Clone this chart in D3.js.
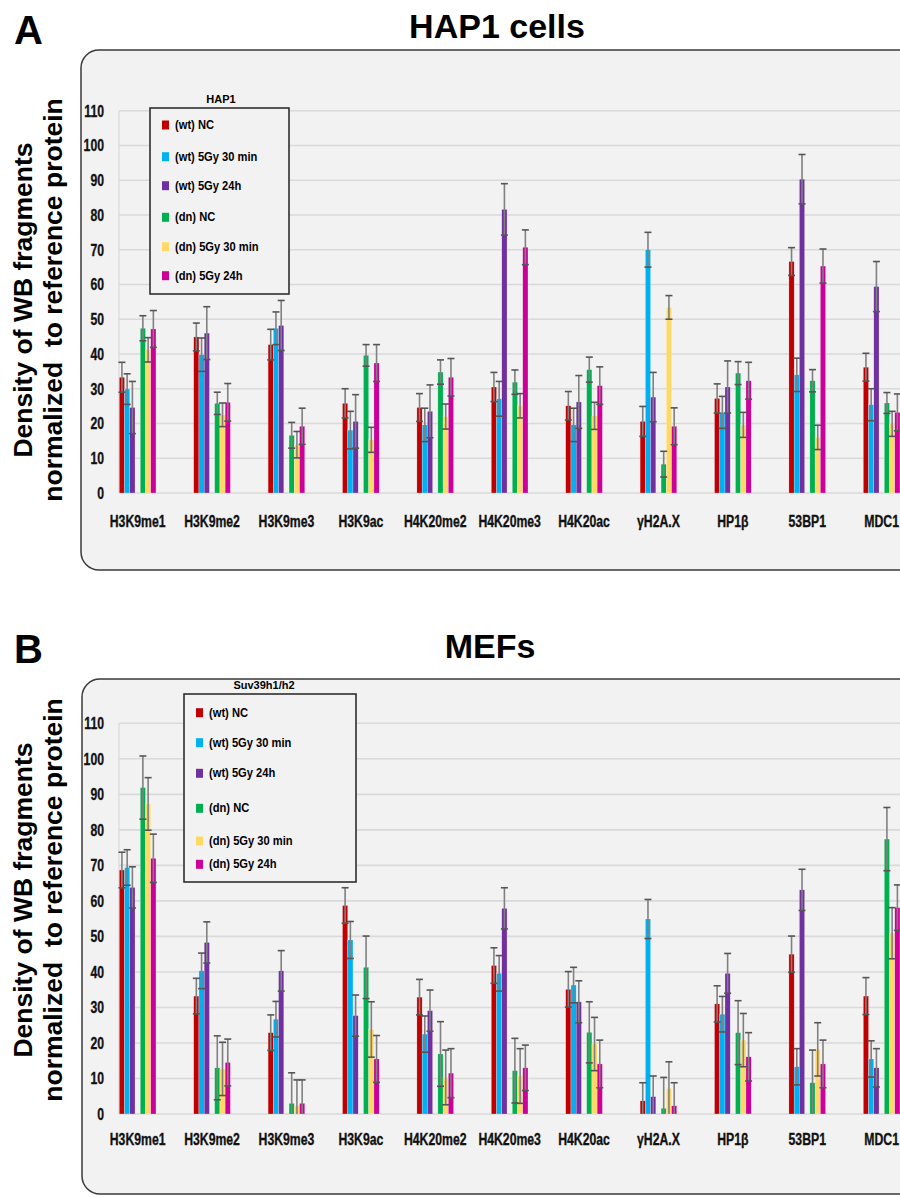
<!DOCTYPE html>
<html lang="en">
<head>
    <meta charset="UTF-8">
    <title>WB fragment density - HAP1 cells and MEFs</title>
    <style>
        body {
            margin: 0;
            background: #fff;
        }
        svg text {
            font-family: "Liberation Sans", Arial, sans-serif;
        }
        .tick-label, .cat-label {
            font-weight: bold;
            font-size: 17px;
            fill: #111;
            stroke: #111;
            stroke-width: 0.35px;
        }
        .axis-title {
            font-weight: bold;
            font-size: 26.5px;
            white-space: pre;
        }
        .legend-text {
            font-weight: bold;
            font-size: 12px;
        }
    </style>
</head>
<body>
<div id="chart"></div>
<script src="https://d3js.org/d3.v7.min.js"></script>
<script>
    // categories on the x axis (same for both panels)
    const categories = ["H3K9me1", "H3K9me2", "H3K9me3", "H3K9ac", "H4K20me2", "H4K20me3",
        "H4K20ac", "γH2A.X", "HP1β", "53BP1", "MDC1"];

    // series: three wt conditions, a gap, then three dn conditions
    const seriesNames = ["(wt) NC", "(wt) 5Gy 30 min", "(wt) 5Gy 24h", "(dn) NC", "(dn) 5Gy 30 min", "(dn) 5Gy 24h"];
    const seriesColors = ["#c00000", "#00b0f0", "#7030a0", "#00b050", "#ffd966", "#cc0099"];
    const yTicks = [0, 10, 20, 30, 40, 50, 60, 70, 80, 90, 100, 110];

    // Panel A: HAP1 cells, one row per series
    const hap1Means = [
        [33.3, 44.9, 42.7, 25.8, 24.6, 30.5, 25.1, 20.6, 27.2, 66.6, 36.2],
        [29.9, 39.8, 47.4, 18.1, 19.6, 27.1, 19.6, 70.0, 23.2, 34.0, 25.4],
        [24.6, 46.0, 48.2, 20.6, 23.5, 81.6, 26.2, 27.6, 30.5, 90.3, 59.4],
        [47.4, 25.8, 16.6, 39.6, 34.8, 31.9, 35.5, 8.3, 34.5, 32.3, 25.9],
        [41.2, 22.5, 13.9, 15.3, 22.0, 25.1, 22.2, 53.4, 19.6, 16.0, 19.9],
        [47.2, 26.1, 19.2, 37.4, 33.3, 70.7, 30.9, 19.2, 32.3, 65.3, 23.2]
    ];
    const hap1Errors = [
        [4.3, 4.0, 4.4, 4.2, 4.0, 4.2, 4.1, 4.3, 4.2, 4.0, 4.0],
        [4.4, 4.8, 4.7, 5.4, 4.8, 5.0, 4.8, 5.0, 4.6, 4.8, 4.6],
        [7.5, 7.6, 7.2, 7.7, 7.6, 7.4, 7.6, 7.1, 7.5, 7.1, 7.2],
        [3.6, 3.2, 3.7, 3.1, 3.5, 3.5, 3.6, 3.7, 3.3, 3.2, 3.0],
        [3.5, 3.4, 3.8, 3.6, 3.6, 3.5, 3.9, 3.4, 3.6, 3.5, 3.6],
        [5.3, 5.4, 5.2, 5.3, 5.4, 5.0, 5.4, 5.3, 5.3, 4.9, 5.3]
    ];

    // Panel B: MEFs (Suv39h1/h2)
    const mefMeans = [
        [68.7, 33.2, 22.9, 58.7, 32.9, 41.8, 35.1, 3.7, 31.0, 45.0, 33.2],
        [69.4, 40.3, 26.7, 49.0, 22.5, 39.6, 36.3, 54.9, 28.1, 13.3, 15.5],
        [63.8, 48.3, 40.3, 27.7, 29.1, 57.9, 31.6, 4.9, 39.6, 63.1, 13.0],
        [91.9, 13.0, 3.0, 41.3, 16.9, 12.2, 23.0, 1.6, 22.9, 8.8, 77.4],
        [87.3, 12.7, 2.3, 23.8, 10.3, 10.7, 19.7, 7.2, 20.8, 18.2, 50.9],
        [72.0, 14.5, 3.0, 15.5, 11.5, 13.0, 14.1, 2.3, 16.1, 14.1, 58.1]
    ];
    const mefErrors = [
        [5.0, 5.0, 5.0, 5.0, 5.0, 5.0, 5.0, 5.1, 5.1, 5.1, 5.2],
        [5.0, 5.0, 5.0, 5.2, 5.1, 5.0, 5.0, 5.5, 5.0, 5.1, 5.1],
        [5.8, 5.8, 5.7, 5.8, 5.8, 5.8, 5.9, 5.8, 5.6, 5.8, 5.4],
        [8.9, 9.0, 8.6, 8.8, 9.1, 9.1, 8.6, 8.7, 9.0, 9.2, 8.9],
        [7.4, 7.5, 7.3, 7.8, 7.7, 7.7, 7.5, 7.5, 7.5, 7.5, 7.2],
        [6.8, 6.6, 6.6, 6.6, 6.9, 6.4, 6.7, 6.5, 6.8, 6.7, 6.4]
    ];

    const width = 900, height = 1197;
    const svg = d3.select("#chart").append("svg")
        .attr("width", width)
        .attr("height", height);

    // slot layout inside one category: wt x3, empty slot, dn x3
    const slots = [0, 1, 2, 4, 5, 6];
    // labels in the original use a condensed bold face; squeeze horizontally
    const squeeze = 0.72;

    function drawPanel(p) {
        const g = svg.append("g");

        // rounded frame
        g.append("rect")
            .attr("x", p.frame[0]).attr("y", p.frame[1])
            .attr("width", p.frame[2]).attr("height", p.frame[3])
            .attr("rx", 18)
            .attr("fill", "#f2f2f2")
            .attr("stroke", "#3a3a3a")
            .attr("stroke-width", 1.5);

        // letter + title
        g.append("text").attr("x", 14).attr("y", p.letterY)
            .attr("font-size", 40).attr("font-weight", "bold").text(p.letter);
        g.append("text").attr("x", p.titleX).attr("y", p.titleY)
            .attr("text-anchor", "middle")
            .attr("font-size", 34).attr("font-weight", "bold").text(p.title);

        const y = d3.scaleLinear().domain([0, 110]).range([p.y0, p.y110]);
        const x = d3.scaleBand().domain(categories)
            .range([119.3, 900])
            .paddingInner(0.507).paddingOuter(0).align(0);
        const inner = d3.scaleBand().domain(d3.range(7)).range([0, x.bandwidth()]);

        // grid
        g.selectAll(".grid").data(yTicks).join("line")
            .attr("x1", 119).attr("x2", 905)
            .attr("y1", d => y(d)).attr("y2", d => y(d))
            .attr("stroke", "#d9d9d9").attr("stroke-width", 1.6);
        g.append("line")
            .attr("x1", 119).attr("x2", 119)
            .attr("y1", y(0)).attr("y2", y(110))
            .attr("stroke", "#d9d9d9").attr("stroke-width", 1.2);

        g.selectAll(".tick-label").data(yTicks).join("text")
            .attr("class", "tick-label")
            .attr("transform", d => `translate(104,${y(d) + 6}) scale(${squeeze},1)`)
            .attr("text-anchor", "end")
            .text(d => d);

        g.selectAll(".cat-label").data(categories).join("text")
            .attr("class", "cat-label")
            .attr("transform", d => `translate(${x(d) + x.bandwidth() / 2},${p.catY}) scale(${squeeze},1)`)
            .attr("text-anchor", "middle")
            .text(d => d);

        // axis title, two rotated lines
        const t = g.append("text").attr("class", "axis-title")
            .attr("transform", `translate(0,${p.titleMid}) rotate(-90)`)
            .attr("text-anchor", "middle");
        t.append("tspan").attr("x", 0).attr("y", 32).text("Density of WB fragments");
        t.append("tspan").attr("x", 0).attr("y", 62).text("normalized  to reference protein");

        // legend box (drawn before bars, sits over the grid)
        const lg = p.legend;
        g.append("text").attr("x", lg.titleX).attr("y", lg.titleY)
            .attr("text-anchor", "middle").attr("font-size", 11).attr("font-weight", "bold")
            .text(lg.title);
        g.append("rect")
            .attr("x", lg.box[0]).attr("y", lg.box[1])
            .attr("width", lg.box[2]).attr("height", lg.box[3])
            .attr("fill", "#f2f2f2").attr("stroke", "#222").attr("stroke-width", 1.5);
        seriesNames.forEach((name, i) => {
            g.append("rect")
                .attr("x", lg.markX).attr("y", lg.rows[i] - 4.5)
                .attr("width", 7).attr("height", 9)
                .attr("fill", seriesColors[i]);
            g.append("text").attr("class", "legend-text")
                .attr("transform", `translate(${lg.markX + 13},${lg.rows[i] + 4}) scale(0.93,1)`)
                .text(name);
        });

        // bars
        const rows = [];
        p.means.forEach((vals, s) => {
            vals.forEach((v, c) => rows.push({s, c, v, e: p.errors[s][c]}));
        });
        const bx = d => x(categories[d.c]) + inner(slots[d.s]);

        g.selectAll(".bar").data(rows).join("rect")
            .attr("x", bx)
            .attr("y", d => y(d.v))
            .attr("width", inner.bandwidth())
            .attr("height", d => y(0) - y(d.v))
            .attr("fill", d => seriesColors[d.s])
            .attr("stroke", "#fff").attr("stroke-width", 0.4).attr("stroke-opacity", 0.6);

        // error bars
        const eb = g.selectAll(".err").data(rows).join("g");
        const cx = d => bx(d) + inner.bandwidth() / 2;
        eb.append("line")
            .attr("x1", cx).attr("x2", cx)
            .attr("y1", d => y(Math.max(0, d.v - d.e)))
            .attr("y2", d => y(d.v + d.e))
            .attr("stroke", "#808080").attr("stroke-width", 1.6);
        eb.append("line")
            .attr("x1", d => cx(d) - 3.5).attr("x2", d => cx(d) + 3.5)
            .attr("y1", d => y(d.v + d.e)).attr("y2", d => y(d.v + d.e))
            .attr("stroke", "#555").attr("stroke-width", 1.6);
        eb.filter(d => d.v - d.e > 0).append("line")
            .attr("x1", d => cx(d) - 3.5).attr("x2", d => cx(d) + 3.5)
            .attr("y1", d => y(d.v - d.e)).attr("y2", d => y(d.v - d.e))
            .attr("stroke", "#555").attr("stroke-width", 1.6);
    }

    drawPanel({
        letter: "A", letterY: 44, title: "HAP1 cells", titleX: 497, titleY: 38,
        frame: [81, 50, 840, 520],
        y0: 493, y110: 110.7, catY: 527, titleMid: 300,
        means: hap1Means, errors: hap1Errors,
        legend: {
            title: "HAP1", titleX: 221, titleY: 103,
            box: [150, 108, 139, 186], markX: 162,
            rows: [125, 156.7, 185.7, 217.3, 246.7, 275.7]
        }
    });

    drawPanel({
        letter: "B", letterY: 663, title: "MEFs", titleX: 490, titleY: 658,
        frame: [82, 679, 840, 515],
        y0: 1114, y110: 723.3, catY: 1145, titleMid: 900,
        means: mefMeans, errors: mefErrors,
        legend: {
            title: "Suv39h1/h2", titleX: 264, titleY: 689,
            box: [184, 694, 172, 188], markX: 196,
            rows: [712.7, 742.7, 773.3, 808.3, 841, 864.3]
        }
    });
</script>
</body>
</html>
